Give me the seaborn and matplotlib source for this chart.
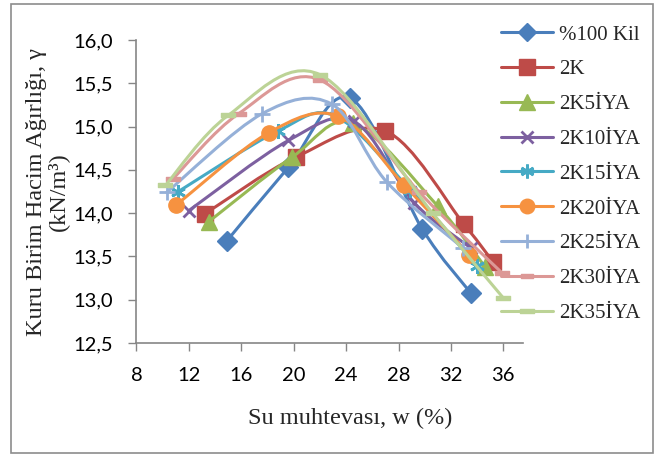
import matplotlib
matplotlib.use("Agg")
import matplotlib.pyplot as plt
import numpy as np
import pandas as pd
import seaborn as sns
from matplotlib.lines import Line2D
from matplotlib.patches import PathPatch, Rectangle
from matplotlib.path import Path

# series names as in the legend
series_names = ["%100 Kil", "2K", "2K5İYA", "2K10İYA", "2K15İYA",
                "2K20İYA", "2K25İYA", "2K30İYA", "2K35İYA"]

# water content w (%) and dry unit weight (kN/m3)
w_kil = [14.9, 19.6, 24.3, 29.8, 33.5]
g_kil = [13.68, 14.53, 15.33, 13.82, 13.08]
w_2k = [13.2, 20.2, 27.0, 33.0, 35.2]
g_2k = [13.99, 14.65, 14.95, 13.87, 13.44]
w_2k5 = [13.5, 19.9, 24.5, 31.0, 34.6]
g_2k5 = [13.90, 14.65, 15.04, 14.08, 13.38]
w_2k10 = [12.0, 19.6, 24.6, 29.2, 33.5]
g_2k10 = [14.03, 14.84, 15.06, 14.12, 13.60]
w_2k15 = [11.2, 18.8, 23.2, 28.9, 34.0]
g_2k15 = [14.25, 14.95, 15.12, 14.27, 13.39]
w_2k20 = [11.0, 18.1, 23.4, 28.4, 33.4]
g_2k20 = [14.09, 14.93, 15.12, 14.33, 13.52]
w_2k25 = [10.3, 17.6, 22.9, 27.1, 32.9]
g_2k25 = [14.24, 15.15, 15.26, 14.36, 13.60]
w_2k30 = [10.8, 15.8, 22.0, 29.6, 35.9]
g_2k30 = [14.40, 15.15, 15.54, 14.24, 13.31]
w_2k35 = [10.2, 15.0, 22.0, 30.6, 36.0]
g_2k35 = [14.32, 15.13, 15.60, 14.00, 13.02]

x_ticks = [8, 12, 16, 20, 24, 28, 32, 36]
y_ticks = [12.5, 13.0, 13.5, 14.0, 14.5, 15.0, 15.5, 16.0]

all_w = [w_kil, w_2k, w_2k5, w_2k10, w_2k15, w_2k20, w_2k25, w_2k30, w_2k35]
all_g = [g_kil, g_2k, g_2k5, g_2k10, g_2k15, g_2k20, g_2k25, g_2k30, g_2k35]

df = pd.concat(
    [pd.DataFrame({"series": n, "w": w, "g": g})
     for n, w, g in zip(series_names, all_w, all_g)],
    ignore_index=True,
)

colors = ["#4a7ebb", "#be4b48", "#98b954", "#7d60a0", "#46aac5",
          "#f69240", "#95b0d8", "#dc9896", "#bcd396"]

bar = Path([(-1, -0.32), (1, -0.32), (1, 0.32), (-1, 0.32), (-1, -0.32)],
           [Path.MOVETO, Path.LINETO, Path.LINETO, Path.LINETO, Path.CLOSEPOLY])
markers = ["D", "s", "^", "x", (6, 2, 0), "o", "+", bar, bar]
msizes = [10, 11.5, 12, 9, 10.5, 11, 11, 9.5, 10]
mews = [1, 1, 1, 2, 2, 1, 2, 1, 1]


def smooth_path(xs, ys):
    # Bezier segments through the points, like an Excel smoothed line
    pts = np.column_stack([xs, ys]).astype(float)
    n = len(pts)
    verts = [pts[0]]
    codes = [Path.MOVETO]
    for i in range(n - 1):
        p0 = pts[i - 1] if i > 0 else pts[i]
        p1 = pts[i]
        p2 = pts[i + 1]
        p3 = pts[i + 2] if i + 2 < n else pts[i + 1]
        verts += [p1 + (p2 - p0) / 6, p2 - (p3 - p1) / 6, p2]
        codes += [Path.CURVE4] * 3
    return Path(verts, codes)


sns.set_theme(style="white")
plt.rcParams["font.family"] = ["Lato", "DejaVu Sans"]
serif = ["Liberation Serif", "DejaVu Serif"]

fig = plt.figure(figsize=(6.6, 4.55), dpi=100)
ax = fig.add_axes([0.2068, 0.2462, 0.5856, 0.6658])

for i, name in enumerate(series_names):
    sub = df[df["series"] == name]
    patch = PathPatch(smooth_path(sub["w"], sub["g"]), fill=False,
                      edgecolor=colors[i], lw=2.2, capstyle="round",
                      joinstyle="round", zorder=3 + i * 0.1)
    ax.add_patch(patch)
    sns.lineplot(data=sub, x="w", y="g", ax=ax, sort=False, estimator=None,
                 linestyle="none", marker=markers[i], markersize=msizes[i],
                 color=colors[i], markeredgecolor=colors[i],
                 markeredgewidth=mews[i], zorder=3.05 + i * 0.1, legend=False)

ax.set_xlim(8, 37.5)
ax.set_ylim(12.5, 16.0)
ax.set_xticks(x_ticks)
ax.set_yticks(y_ticks)
ax.set_xticklabels([str(v) for v in x_ticks])
ax.set_yticklabels([f"{v:.1f}".replace(".", ",") for v in y_ticks])
ax.set_xlabel("")
ax.set_ylabel("")
ax.tick_params(axis="both", which="major", labelsize=14.5, colors="#868686",
               labelcolor="black", length=6, width=1, direction="out")
ax.tick_params(axis="x", pad=11, bottom=True)
ax.tick_params(axis="y", pad=11, left=True)
for side in ["top", "right"]:
    ax.spines[side].set_visible(False)
for side in ["left", "bottom"]:
    ax.spines[side].set_color("#868686")
    ax.spines[side].set_linewidth(1.2)

fig.text(350 / 660, 1 - 418 / 455, "Su muhtevası, w (%)", family=serif,
         fontsize=17.5, ha="center", va="center")
fig.text(47 / 660, 1 - 192 / 455, "Kuru Birim Hacim Ağırlığı, γ\n(kN/m³)",
         family=serif, fontsize=17.5, ha="center", va="center", rotation=90,
         multialignment="center", linespacing=1.0)

handles = [Line2D([], [], color=colors[i], lw=2.2, marker=markers[i],
                  markersize=msizes[i] * 0.95, markeredgecolor=colors[i],
                  markeredgewidth=mews[i])
           for i in range(len(series_names))]
fig.legend(handles, series_names, loc="upper left",
           bbox_to_anchor=(501 / 660, 1 - 25 / 455), frameon=False,
           prop={"family": serif, "size": 15}, handlelength=2.5,
           handletextpad=0.3, labelspacing=0.73, borderpad=0,
           borderaxespad=0)

fig.patches.append(Rectangle((11 / 660, 2 / 455), 642 / 660, 449 / 455,
                             transform=fig.transFigure, fill=False,
                             edgecolor="#8c8c8c", lw=1.2))

fig.savefig("out.png", dpi=100)
